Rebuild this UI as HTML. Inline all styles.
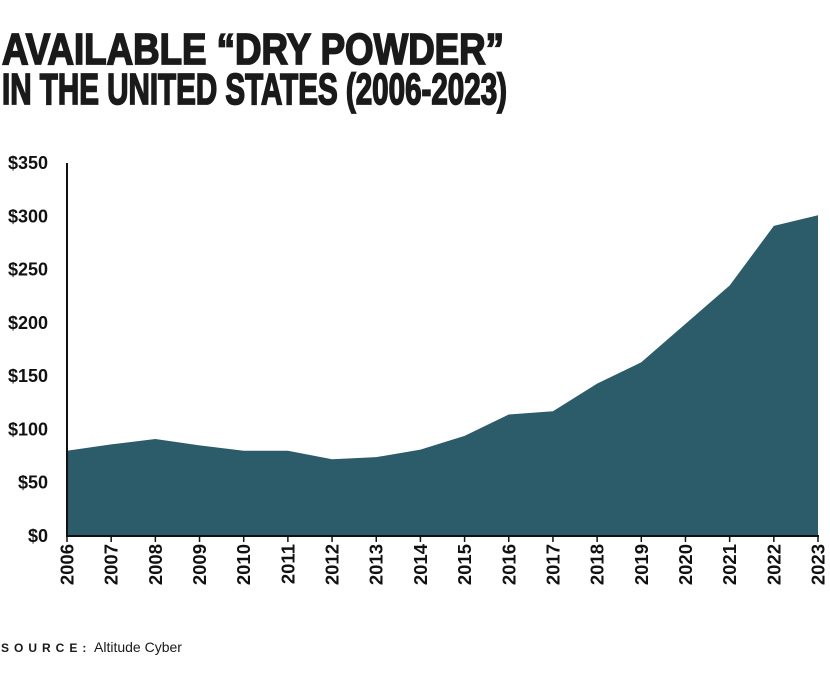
<!DOCTYPE html>
<html><head><meta charset="utf-8"><style>
body{margin:0;background:#fff;}
svg{display:block;font-family:"Liberation Sans",sans-serif;}
</style></head><body>
<svg width="830" height="678" viewBox="0 0 830 678">
<text x="2" y="64" font-family="Liberation Sans Narrow, Liberation Sans, sans-serif" font-weight="bold" font-size="40" fill="#1a1a1a" stroke="#1a1a1a" stroke-width="1.6" textLength="502" lengthAdjust="spacingAndGlyphs" transform="scale(1,1.1)" transform-origin="0 64">AVAILABLE “DRY POWDER”</text>
<text x="2" y="104" font-family="Liberation Sans Narrow, Liberation Sans, sans-serif" font-weight="bold" font-size="40" fill="#1a1a1a" stroke="#1a1a1a" stroke-width="1.6" textLength="505" lengthAdjust="spacingAndGlyphs" transform="scale(1,1.1)" transform-origin="0 104">IN THE UNITED STATES (2006-2023)</text>
<g id="plot"></g>
<text x="1" y="652" font-size="12" font-weight="bold" letter-spacing="5" fill="#1a1a1a">SOURCE:</text>
<text x="94" y="652" font-size="14" fill="#1a1a1a">Altitude Cyber</text>
</svg>
<script>
const years = [2006,2007,2008,2009,2010,2011,2012,2013,2014,2015,2016,2017,2018,2019,2020,2021,2022,2023];
const values = [80,86,91,85,80,80,72,74,81,94,114,117,143,163,199,235,291,301];
const yTicks = [0,50,100,150,200,250,300,350];
const yTickLabels = ["$0","$50","$100","$150","$200","$250","$300","$350"];
const NS="http://www.w3.org/2000/svg";
const g=document.getElementById('plot');
const x0=67,x1=818,y0=536,y1=163;
function xs(i){return x0+(x1-x0)*i/(years.length-1);}
function ys(v){return y0-(y0-y1)*v/350;}
function mk(t,a){const e=document.createElementNS(NS,t);for(const k in a)e.setAttribute(k,a[k]);g.appendChild(e);return e;}
let d="M"+xs(0)+","+y0;
values.forEach((v,i)=>{d+=" L"+xs(i)+","+ys(v);});
d+=" L"+xs(values.length-1)+","+y0+" Z";
const area=mk('path',{d:d,fill:'#2c5b69'});


const ya=mk('line',{x1:x0,y1:y1,x2:x0,y2:y0+1,stroke:'#111','stroke-width':2});


const xa=mk('line',{x1:x0-1,y1:y0,x2:x1+1,y2:y0,stroke:'#111','stroke-width':2});


yTicks.forEach((v,i)=>{
  const t=mk('text',{x:48,y:ys(v)+6,'text-anchor':'end','font-size':18,'font-weight':'bold',fill:'#111'});
  t.textContent=yTickLabels[i];
  
  
});
years.forEach((yr,i)=>{
  const x=xs(i);
  const tk=mk('line',{x1:x,y1:y0,x2:x,y2:y0+6,stroke:'#111','stroke-width':1.5});
  
  
  const t=mk('text',{x:0,y:0,'text-anchor':'end','font-size':18.5,'font-weight':'bold',fill:'#111',transform:'translate('+(x+6.5)+','+(y0+8)+') rotate(-90)'});
  t.textContent=yr;
  
  
});
</script>
</body></html>
